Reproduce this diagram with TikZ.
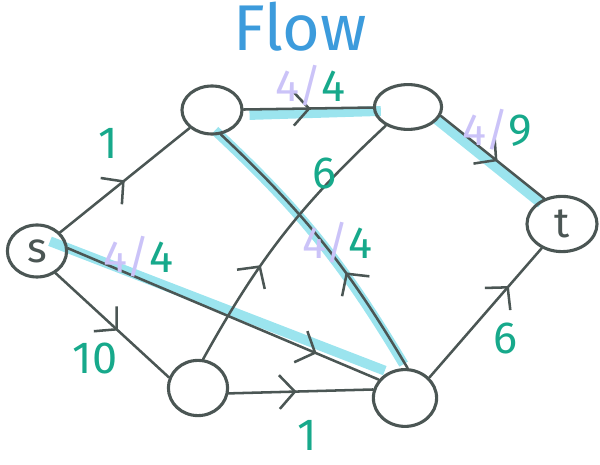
\documentclass[tikz,border=0pt]{standalone}
\usepackage{fontspec}
\setsansfont{Fira Sans}
\usetikzlibrary{shapes.geometric,arrows.meta,decorations.markings,backgrounds}
\definecolor{pen}{HTML}{4B5654}
\definecolor{capgreen}{HTML}{17A98B}
\definecolor{flowlav}{HTML}{CBC3F8}
\definecolor{hilite}{HTML}{9BE4EE}
\definecolor{titleblue}{HTML}{3C9BDC}

\begin{document}
\begin{tikzpicture}[x=0.025cm, y=-0.025cm, font=\sffamily, line cap=round, line join=round,
    >={Straight Barb[length=11pt, width=24pt]},
    vtx/.style={draw=pen, ellipse, line width=2.2pt, inner sep=0pt, text=pen, font=\sffamily\fontsize{30}{30}\selectfont},
    flw/.style={color=pen, line width=1.8pt, postaction={decorate},
      decoration={markings, mark=at position #1 with {\arrow{>}}}},
    flw/.default=0.5,
    hi/.style={draw=hilite, line width=7pt},
    num/.style={text=capgreen, font=\sffamily\fontsize{32}{32}\selectfont, inner sep=0pt}]
  \useasboundingbox (0,0) rectangle (600,465);
  \node[text=titleblue, inner sep=0pt, font=\sffamily\fontsize{46}{46}\selectfont] (title) at (300,27) {Flow};
  % vertices
  \node[vtx, minimum width=1.48cm, minimum height=1.3cm] (s) at (37,251) {s};
  \node[vtx, minimum width=1.5cm, minimum height=1.2cm] (a) at (212,110) {};
  \node[vtx, minimum width=1.68cm, minimum height=1.12cm] (b) at (408,107) {};
  \node[vtx, minimum width=1.75cm, minimum height=1.38cm] (t) at (562,224) {t};
  \node[vtx, minimum width=1.48cm, minimum height=1.38cm] (c) at (198,388) {};
  \node[vtx, minimum width=1.58cm, minimum height=1.42cm] (d) at (405,398) {};
  % edges with capacities
  \draw[flw=.5] (s) -- node[num, pos=.5, shift={(-17,-37)}] (l1) {1} (a);
  \draw[flw=.52] (a) -- node[num, pos=.5, shift={(2,-23)}] (l2) {\textcolor{flowlav}{4/}4} (b);
  \draw[flw=.55] (b.-15) -- node[num, pos=.5, shift={(5,-27)}] (l3) {\textcolor{flowlav}{4/}9} (t.125);
  \draw[flw=.55] (s.-50) -- node[num, pos=.5, shift={(-17,33)}] (l4) {10} (c.160);
  \draw[flw=.47] (c.-10) -- node[num, pos=.5, shift={(6,44)}] (l5) {1} (d.165);
  \draw[flw=.37] (c.80) to[bend left=9] node[num, pos=.7, shift={(5,-18)}] (l6) {6} (b.220);
  \draw[flw=.38] (d.85) to[bend right=8] node[num, pos=.43, shift={(2,-16)}] (l7) {\textcolor{flowlav}{4/}4} (a.-70);
  \draw[flw=.8] (s.5) -- node[num, pos=.23, shift={(-1,-22)}] (l8) {\textcolor{flowlav}{4/}4} (d.145);
  \draw[flw=.71] (d.40) -- node[num, pos=.36, shift={(36,7)}] (l9) {6} (t.-130);
  % augmenting path
  \begin{scope}[on background layer]
    \draw[hi] ([shift={(6,5)}]a.east) -- ([shift={(8,4)}]b.west);
    \draw[hi] ([shift={(-5,3)}]b.-15) -- ([shift={(-3,5)}]t.125);
    \draw[hi] ([shift={(-4,-4)}]d.85) to[bend right=8] ([shift={(-6,-4)}]a.-70);
    \draw[hi] ([shift={(-18,-7)}]s.5) -- ([shift={(6,-9)}]d.145);
  \end{scope}
\end{tikzpicture}
\end{document}
